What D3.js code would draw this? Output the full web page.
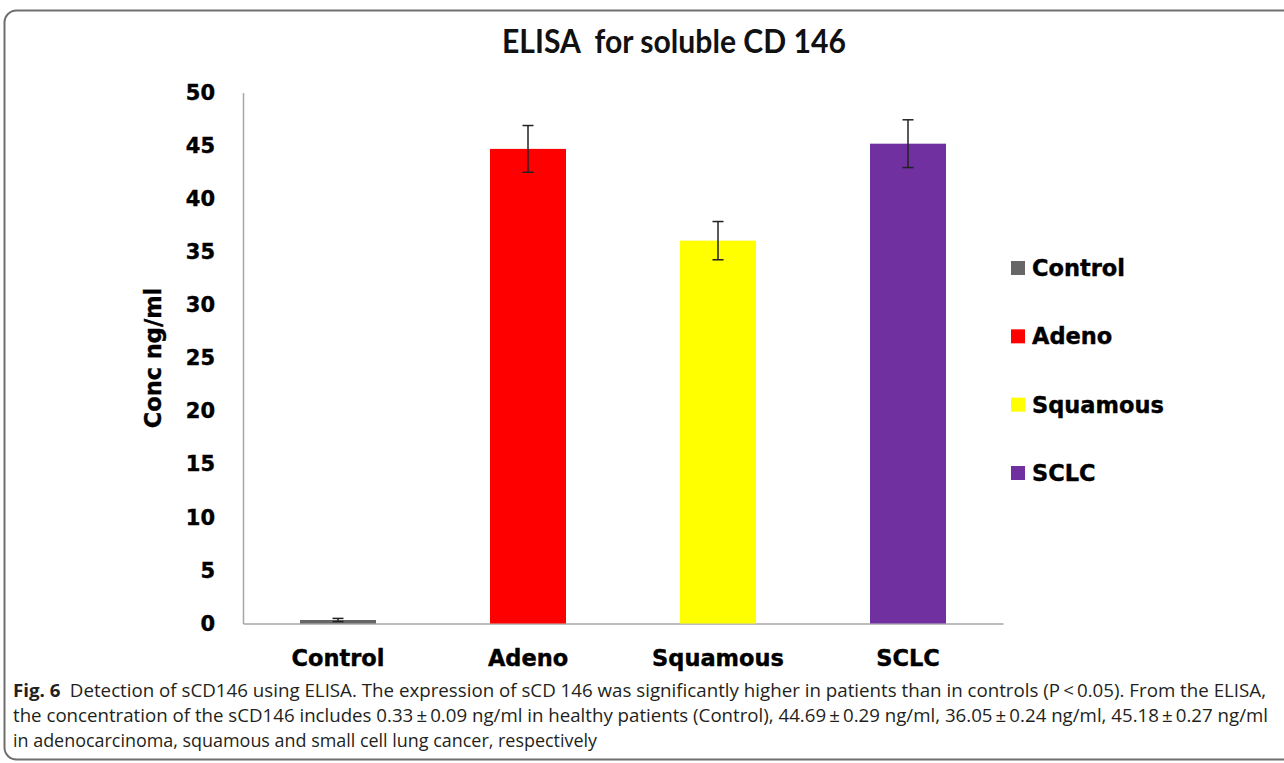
<!DOCTYPE html>
<html>
<head>
<meta charset="utf-8">
<script src="https://cdn.jsdelivr.net/npm/d3@7"></script>
<style>
  html, body { margin: 0; padding: 0; background: #fff; }
  svg { display: block; }
</style>
</head>
<body>
<svg id="fig" width="1284" height="763"></svg>
<script>
// ELISA results for soluble CD146 by patient group
const categories = ["Control", "Adeno", "Squamous", "SCLC"];
const means = [0.33, 44.69, 36.05, 45.18];
const errors = [0.15, 2.2, 1.8, 2.25];
const colors = ["#666666", "#ff0000", "#ffff00", "#7030a0"];
const yTicks = [0, 5, 10, 15, 20, 25, 30, 35, 40, 45, 50];

const titleText = "ELISA\u00a0 for soluble CD 146";
const yLabel = "Conc ng/ml";
const captionLines = [
  "the concentration of the sCD146 includes 0.33\u2009\u00b1\u20090.09 ng/ml in healthy patients (Control), 44.69\u2009\u00b1\u20090.29 ng/ml, 36.05\u2009\u00b1\u20090.24 ng/ml, 45.18\u2009\u00b1\u20090.27 ng/ml",
  "in adenocarcinoma, squamous and small cell lung cancer, respectively"
];
const captionHead = "Fig. 6";
const captionFirst = "\u2002Detection of sCD146 using ELISA. The expression of sCD 146 was significantly higher in patients than in controls (P\u2009<\u20090.05). From the ELISA,";

const svg = d3.select("#fig");
const boldFont = "'DejaVu Sans', 'Liberation Sans', sans-serif";

// framed panel
svg.append("rect")
  .attr("x", 4.5).attr("y", 10.5)
  .attr("width", 1320).attr("height", 749)
  .attr("rx", 12).attr("ry", 12)
  .attr("fill", "#fff")
  .attr("stroke", "#6e6e6e")
  .attr("stroke-width", 2);

// title
svg.append("text")
  .attr("x", 674).attr("y", 53)
  .attr("text-anchor", "middle")
  .attr("font-family", "Lato, 'Open Sans', sans-serif")
  .attr("font-weight", 700)
  .attr("font-size", 33)
  .attr("textLength", 344)
  .attr("lengthAdjust", "spacingAndGlyphs")
  .attr("fill", "#111")
  .text(titleText);

const plot = { left: 243, right: 1003, top: 92.5, bottom: 623.5 };

const x = d3.scaleBand()
  .domain(categories)
  .range([plot.left, plot.right])
  .paddingInner(0.6)
  .paddingOuter(0.3);

const y = d3.scaleLinear()
  .domain([0, 50])
  .range([plot.bottom, plot.top]);

// y axis
const yAxis = svg.append("g")
  .attr("transform", `translate(${plot.left},0)`)
  .call(d3.axisLeft(y).tickValues(yTicks).tickSize(0).tickSizeOuter(0).tickPadding(28));
yAxis.select(".domain").attr("stroke", "#a6a6a6").attr("stroke-width", 1.5);
yAxis.selectAll("text")
  .attr("font-family", boldFont)
  .attr("font-weight", 700)
  .attr("font-size", 21)
  .attr("fill", "#000")
  .attr("stroke", "#000")
  .attr("stroke-width", 0.4);

// x axis
const xAxis = svg.append("g")
  .attr("transform", `translate(0,${plot.bottom})`)
  .call(d3.axisBottom(x).tickSize(0).tickSizeOuter(0).tickPadding(27));
xAxis.select(".domain").attr("stroke", "#a6a6a6").attr("stroke-width", 1.5);
xAxis.selectAll("text")
  .attr("font-family", boldFont)
  .attr("font-weight", 700)
  .attr("font-size", 22.5)
  .attr("fill", "#000")
  .attr("stroke", "#000")
  .attr("stroke-width", 0.4);

// y axis title
svg.append("text")
  .attr("transform", "translate(161,358) rotate(-90)")
  .attr("text-anchor", "middle")
  .attr("font-family", boldFont)
  .attr("font-weight", 700)
  .attr("font-size", 22.5)
  .attr("fill", "#000")
  .attr("stroke", "#000")
  .attr("stroke-width", 0.4)
  .text(yLabel);

// bars
const rows = categories.map((c, i) => ({ c, v: means[i], e: errors[i], col: colors[i] }));
svg.append("g").selectAll("rect")
  .data(rows)
  .join("rect")
  .attr("x", d => x(d.c))
  .attr("y", d => y(d.v))
  .attr("width", x.bandwidth())
  .attr("height", d => y(0) - y(d.v))
  .attr("fill", d => d.col);

// error bars
const eb = svg.append("g").attr("stroke", "#222").attr("stroke-width", 1.5);
rows.forEach(d => {
  const cx = x(d.c) + x.bandwidth() / 2;
  eb.append("line").attr("x1", cx).attr("x2", cx).attr("y1", y(d.v + d.e)).attr("y2", y(d.v - d.e));
  eb.append("line").attr("x1", cx - 5.5).attr("x2", cx + 5.5).attr("y1", y(d.v + d.e)).attr("y2", y(d.v + d.e));
  eb.append("line").attr("x1", cx - 5.5).attr("x2", cx + 5.5).attr("y1", y(d.v - d.e)).attr("y2", y(d.v - d.e));
});

// legend
const legend = svg.append("g");
const legendY = d3.scalePoint().domain(categories).range([268, 473]);
rows.forEach(d => {
  const g = legend.append("g").attr("transform", `translate(1011,${legendY(d.c)})`);
  g.append("rect").attr("x", 0).attr("y", -7).attr("width", 14).attr("height", 14).attr("fill", d.col);
  g.append("text")
    .attr("x", 21).attr("y", 0).attr("dy", "0.36em")
    .attr("font-family", boldFont)
    .attr("font-weight", 700)
    .attr("font-size", 22.5)
    .attr("fill", "#000")
    .attr("stroke", "#000")
    .attr("stroke-width", 0.4)
    .text(d.c);
});

// caption
const capFont = "'Open Sans', 'Noto Sans', sans-serif";
const capSize = 18;
const cap1 = svg.append("text")
  .attr("x", 13).attr("y", 697)
  .attr("font-family", capFont)
  .attr("font-size", capSize)
  .attr("fill", "#231f20")
  .attr("textLength", 1253)
  .attr("lengthAdjust", "spacingAndGlyphs");
cap1.append("tspan").attr("font-weight", 700).text(captionHead);
cap1.append("tspan").text(captionFirst);

svg.append("text")
  .attr("x", 13).attr("y", 722)
  .attr("font-family", capFont)
  .attr("font-size", capSize)
  .attr("fill", "#231f20")
  .attr("textLength", 1255)
  .attr("lengthAdjust", "spacingAndGlyphs")
  .text(captionLines[0]);

svg.append("text")
  .attr("x", 13).attr("y", 747)
  .attr("font-family", capFont)
  .attr("font-size", capSize)
  .attr("fill", "#231f20")
  .attr("textLength", 584)
  .attr("lengthAdjust", "spacingAndGlyphs")
  .text(captionLines[1]);
</script>
</body>
</html>
